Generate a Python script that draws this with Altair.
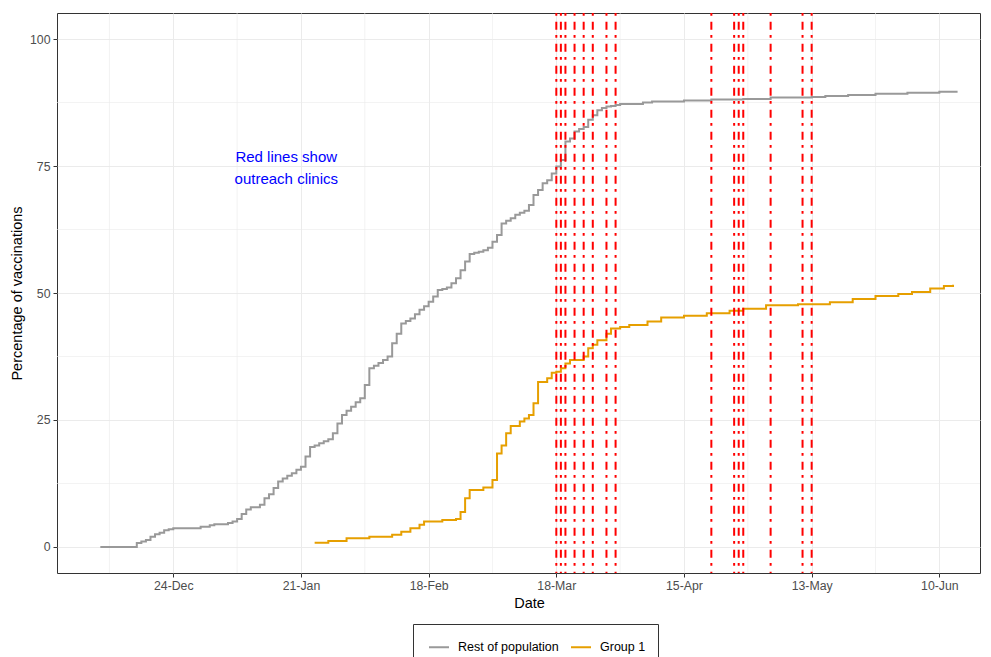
import altair as alt
import pandas as pd

# ---- data ----
gray_dates = [
    "2020-12-08", "2020-12-15", "2020-12-16", "2020-12-17", "2020-12-18", "2020-12-19",
    "2020-12-20", "2020-12-21", "2020-12-22", "2020-12-23", "2020-12-24", "2020-12-30",
    "2021-01-01", "2021-01-02", "2021-01-05", "2021-01-06", "2021-01-07", "2021-01-08",
    "2021-01-09", "2021-01-10", "2021-01-12", "2021-01-13", "2021-01-14", "2021-01-15",
    "2021-01-16", "2021-01-17", "2021-01-18", "2021-01-19", "2021-01-20", "2021-01-21",
    "2021-01-22", "2021-01-23", "2021-01-24", "2021-01-25", "2021-01-26", "2021-01-27",
    "2021-01-28", "2021-01-29", "2021-01-30", "2021-01-31", "2021-02-01", "2021-02-02",
    "2021-02-03", "2021-02-04", "2021-02-05", "2021-02-06", "2021-02-07", "2021-02-08",
    "2021-02-09", "2021-02-10", "2021-02-11", "2021-02-12", "2021-02-13", "2021-02-14",
    "2021-02-15", "2021-02-16", "2021-02-17", "2021-02-18", "2021-02-19", "2021-02-20",
    "2021-02-21", "2021-02-22", "2021-02-23", "2021-02-24", "2021-02-25", "2021-02-26",
    "2021-02-27", "2021-02-28", "2021-03-01", "2021-03-02", "2021-03-03", "2021-03-04",
    "2021-03-05", "2021-03-06", "2021-03-07", "2021-03-08", "2021-03-09", "2021-03-10",
    "2021-03-11", "2021-03-12", "2021-03-13", "2021-03-14", "2021-03-15", "2021-03-16",
    "2021-03-17", "2021-03-18", "2021-03-19", "2021-03-20", "2021-03-21", "2021-03-22",
    "2021-03-23", "2021-03-24", "2021-03-25", "2021-03-26", "2021-03-27", "2021-03-28",
    "2021-03-29", "2021-03-30", "2021-03-31", "2021-04-01", "2021-04-06", "2021-04-08",
    "2021-04-15", "2021-04-21", "2021-04-28", "2021-05-04", "2021-05-13", "2021-05-16",
    "2021-05-21", "2021-05-27", "2021-06-03", "2021-06-10", "2021-06-14",
]
gray_values = [
    0.0, 0.0, 0.8, 1.1, 1.4, 2.0,
    2.5, 2.8, 3.3, 3.5, 3.7, 4.0,
    4.3, 4.5, 4.7, 5.0, 5.5, 6.5,
    7.4, 7.8, 8.3, 9.6, 10.4, 11.6,
    12.9, 13.5, 14.0, 14.5, 15.2, 15.8,
    17.8, 19.7, 20.0, 20.4, 20.8, 21.2,
    22.4, 24.3, 26.0, 26.8, 27.6, 28.5,
    29.3, 31.9, 35.2, 35.7, 36.2, 36.8,
    37.5, 40.1, 42.0, 44.0, 44.5, 45.0,
    45.8, 46.7, 47.4, 48.3, 49.3, 50.6,
    50.8, 51.1, 51.9, 52.9, 54.5, 56.2,
    57.7, 57.9, 58.1, 58.4, 58.9, 60.1,
    61.4, 63.7, 64.2, 64.7, 65.4, 65.8,
    66.2, 67.3, 69.3, 70.3, 71.6, 72.2,
    73.5, 74.9, 76.2, 79.8, 80.4, 81.8,
    82.3, 82.7, 84.1, 85.0, 86.0, 86.4,
    86.7, 86.8, 87.0, 87.2, 87.5, 87.7,
    87.9, 88.1, 88.2, 88.5, 88.6, 88.8,
    89.0, 89.2, 89.4, 89.6, 89.6,
]

orange_dates = [
    "2021-01-24", "2021-01-27", "2021-01-31", "2021-02-05", "2021-02-10", "2021-02-12",
    "2021-02-14", "2021-02-16", "2021-02-17", "2021-02-21", "2021-02-24", "2021-02-25",
    "2021-02-26", "2021-02-27", "2021-03-02", "2021-03-04", "2021-03-05", "2021-03-06",
    "2021-03-07", "2021-03-08", "2021-03-10", "2021-03-11", "2021-03-12", "2021-03-13",
    "2021-03-14", "2021-03-16", "2021-03-17", "2021-03-18", "2021-03-19", "2021-03-20",
    "2021-03-21", "2021-03-24", "2021-03-25", "2021-03-26", "2021-03-27", "2021-03-29",
    "2021-03-30", "2021-04-01", "2021-04-03", "2021-04-07", "2021-04-10", "2021-04-15",
    "2021-04-20", "2021-04-25", "2021-04-28", "2021-05-03", "2021-05-10", "2021-05-17",
    "2021-05-22", "2021-05-27", "2021-06-01", "2021-06-04", "2021-06-08", "2021-06-11",
    "2021-06-13",
]
orange_values = [
    0.85, 1.2, 1.7, 2.0, 2.4, 3.0,
    3.7, 4.4, 5.0, 5.3, 5.5, 6.9,
    9.6, 11.2, 11.7, 13.2, 18.4, 20.0,
    22.4, 23.8, 24.7, 25.3, 26.0, 28.3,
    32.5, 33.2, 34.3, 34.5, 35.2, 36.1,
    36.8, 37.5, 39.1, 39.8, 40.7, 42.0,
    43.0, 43.3, 43.7, 44.4, 45.2, 45.5,
    46.0, 46.5, 46.9, 47.6, 47.8, 48.2,
    48.8, 49.4, 49.8, 50.2, 50.9, 51.4,
    51.6,
]

clinic_dates = [
    "2021-03-18", "2021-03-19", "2021-03-20", "2021-03-22", "2021-03-24",
    "2021-03-26", "2021-03-29", "2021-03-31", "2021-04-21", "2021-04-26",
    "2021-04-27", "2021-04-28", "2021-05-04", "2021-05-11", "2021-05-13",
]

series_names = ["Rest of population", "Group 1"]
series_colors = ["#999999", "#E69F00"]

minor_x_dates = ["2020-12-10", "2021-01-07", "2021-02-04", "2021-03-04",
                 "2021-04-01", "2021-04-29", "2021-05-27"]
minor_y_values = [12.5, 37.5, 62.5, 87.5]
y_tick_values = [0, 25, 50, 75, 100]
x_tick_dates = [(2020, 12, 24), (2021, 1, 21), (2021, 2, 18), (2021, 3, 18),
                (2021, 4, 15), (2021, 5, 13), (2021, 6, 10)]

note_dates = ["2021-01-18"]
note_values = [75]
note_labels = ["Red lines show\n\u00a0outreach clinics"]

# ---- tables ----
lines_df = pd.concat([
    pd.DataFrame({"date": gray_dates, "value": gray_values, "series": series_names[0], "ord": 0}),
    pd.DataFrame({"date": orange_dates, "value": orange_values, "series": series_names[1], "ord": 1}),
])
clinic_df = pd.DataFrame({"date": clinic_dates})
minor_x_df = pd.DataFrame({"date": minor_x_dates})
minor_y_df = pd.DataFrame({"value": minor_y_values})
note_df = pd.DataFrame({"date": note_dates, "value": note_values, "label": note_labels})

FONT = "Liberation Sans"

x_scale = alt.Scale(
    type="utc",
    domain=[alt.DateTime(year=2020, month=11, date=28, hours=12, utc=True),
            alt.DateTime(year=2021, month=6, date=18, hours=22, utc=True)],
    nice=False,
)
y_scale = alt.Scale(domain=[-5.12, 105.12], nice=False, zero=False)

x_axis = alt.Axis(
    title="Date",
    values=[alt.DateTime(year=y, month=m, date=d, utc=True) for (y, m, d) in x_tick_dates],
    format="%d-%b",
    domain=False,
    grid=True, gridColor="#EBEBEB", gridWidth=1,
    ticks=True, tickColor="#333333", tickSize=4, tickWidth=1,
    labelFont=FONT, labelFontSize=12.3, labelColor="#4D4D4D", labelPadding=2,
    titleFont=FONT, titleFontSize=14.5, titleFontWeight="normal", titleColor="#000000",
    titleX=472, titleY=30, titleBaseline="middle",
)
y_axis = alt.Axis(
    title="Percentage of vaccinations",
    values=y_tick_values,
    domain=False,
    grid=True, gridColor="#EBEBEB", gridWidth=1,
    ticks=True, tickColor="#333333", tickSize=4, tickWidth=1,
    labelFont=FONT, labelFontSize=12.3, labelColor="#4D4D4D", labelPadding=3,
    titleFont=FONT, titleFontSize=14.5, titleFontWeight="normal", titleColor="#000000",
    titleX=-40, titleY=280, titleBaseline="middle", titleAlign="center", titleAngle=270,
)

X = alt.X("date:T", scale=x_scale, axis=x_axis)
Y = alt.Y("value:Q", scale=y_scale, axis=y_axis)

minor_x = alt.Chart(minor_x_df).mark_rule(color="#EBEBEB", strokeWidth=0.6).encode(x=X)
minor_y = alt.Chart(minor_y_df).mark_rule(color="#EBEBEB", strokeWidth=0.6).encode(y=Y)

lines = alt.Chart(lines_df).mark_line(interpolate="step-after", strokeWidth=2, clip=True).encode(
    x=X,
    y=Y,
    color=alt.Color(
        "series:N",
        scale=alt.Scale(domain=series_names, range=series_colors),
        legend=alt.Legend(
            title=None, orient="none", legendX=356, legendY=611, direction="horizontal",
            symbolType="stroke", symbolSize=400, symbolStrokeWidth=2, symbolOffset=3,
            labelFont=FONT, labelFontSize=12.5, labelColor="#000000", labelOffset=8,
            columnPadding=8, padding=12, strokeColor="#333333", fillColor="#FFFFFF",
        ),
    ),
    order=alt.Order("ord:Q"),
)

clinics = alt.Chart(clinic_df).mark_rule(
    color="#FF0000", strokeWidth=2, strokeDash=[2.7, 6, 8, 5.3], clip=True
).encode(x=X)

note = alt.Chart(note_df).mark_text(
    color="#0000FF", font=FONT, fontSize=15, lineHeight=22, lineBreak="\n",
    align="center", baseline="middle", dy=-9, dx=-1,
).encode(x=X, y=Y, text="label:N")

chart = alt.layer(minor_x, minor_y, lines, clinics, note).properties(
    width=923,
    height=560,
    autosize=alt.AutoSizeParams(type="none"),
    padding={"left": 49, "top": 5, "right": 3, "bottom": 84},
).configure(font=FONT).configure_view(stroke="#333333", strokeWidth=1)

chart.save("out.html", embed_options={"renderer": "svg", "actions": False})
